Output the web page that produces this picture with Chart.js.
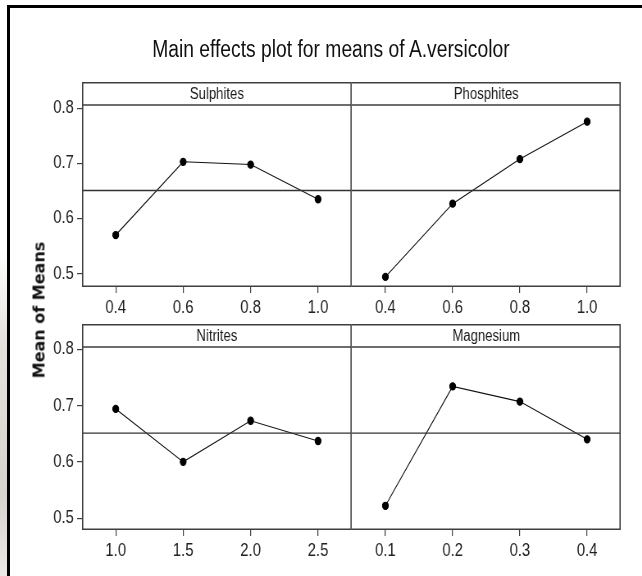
<!DOCTYPE html>
<html>
<head>
<meta charset="utf-8">
<script src="https://cdn.jsdelivr.net/npm/chart.js@4/dist/chart.umd.min.js"></script>
<style>
  html, body { margin: 0; padding: 0; background: #fff; }
  #page { position: relative; width: 642px; height: 576px; overflow: hidden; background: #fff; }
  #edge { position: absolute; left: 0; top: 250px; width: 7px; height: 326px;
          background: linear-gradient(#fff, #e4e0dc 30%, #d6d2ce 75%, #ebe8e5); }
  #frame { position: absolute; left: 7px; top: 5px; width: 640px; height: 580px;
           border-left: 3px solid #000; border-top: 3px solid #000; }
  /* the original plot is squeezed sideways, so the whole drawing is too */
  #squeeze { position: absolute; left: 0; top: 0; width: 783px; height: 576px;
             transform: scaleX(0.82); transform-origin: 0 0; }
  #title { position: absolute; left: 0; width: 807px; top: 36px; text-align: center;
           font-family: 'Liberation Sans', Arial, sans-serif; font-size: 23.5px; color: #111;
           white-space: nowrap; }
  #ylab { position: absolute; left: 39px; top: 310px; transform: translate(-50%, -50%) rotate(-90deg);
          font-family: 'DejaVu Sans', sans-serif; font-weight: bold; font-size: 16px; color: #111;
          white-space: nowrap; }
  canvas { position: absolute; }
</style>
</head>
<body>
<div id="page">
  <div id="edge"></div>
  <div id="frame"></div>
  <div id="squeeze">
    <div id="title">Main effects plot for means of A.versicolor</div>
    <canvas id="c1" width="390" height="236" style="left:39px;top:81px"></canvas>
    <canvas id="c2" width="330" height="236" style="left:429px;top:81px"></canvas>
    <canvas id="c3" width="390" height="237" style="left:39px;top:323px"></canvas>
    <canvas id="c4" width="330" height="237" style="left:429px;top:323px"></canvas>
  </div>
  <div id="ylab">Mean of Means</div>
</div>
<script>
const sulphLevels = ["0.4", "0.6", "0.8", "1.0"];
const sulphMeans = [0.570, 0.703, 0.698, 0.635];
const phosLevels = ["0.4", "0.6", "0.8", "1.0"];
const phosMeans = [0.494, 0.627, 0.708, 0.776];
const nitLevels = ["1.0", "1.5", "2.0", "2.5"];
const nitMeans = [0.694, 0.600, 0.673, 0.637];
const magLevels = ["0.1", "0.2", "0.3", "0.4"];
const magMeans = [0.522, 0.734, 0.707, 0.640];
const grandMean = 0.651;
const yTicks = [0.5, 0.6, 0.7, 0.8];

const FONT = "'Liberation Sans', Arial, sans-serif";
const FRAME = "#3f3f3f";
const STRIP_H = 23;

// box round the panel plus the header strip with the factor name
const panelFrame = {
  id: "panelFrame",
  afterDraw(chart, args, opts) {
    const { ctx, chartArea: a } = chart;
    ctx.save();
    ctx.strokeStyle = FRAME;
    ctx.lineWidth = 1.6;
    ctx.beginPath();
    if (!opts.skipLeft) {
      ctx.moveTo(a.left + 0.8, a.bottom - 0.8);
      ctx.lineTo(a.left + 0.8, a.top + 0.8);
    } else {
      ctx.moveTo(a.left, a.top + 0.8);
    }
    ctx.lineTo(a.right - 0.8, a.top + 0.8);
    ctx.lineTo(a.right - 0.8, a.bottom - 0.8);
    ctx.lineTo(a.left, a.bottom - 0.8);
    ctx.moveTo(a.left, a.top + STRIP_H);
    ctx.lineTo(a.right, a.top + STRIP_H);
    ctx.stroke();
    ctx.fillStyle = "#1a1a1a";
    ctx.font = "16px " + FONT;
    ctx.textAlign = "center";
    ctx.textBaseline = "middle";
    ctx.fillText(opts.label, (a.left + a.right) / 2, a.top + STRIP_H / 2 + 1);
    ctx.restore();
  }
};

function zeroPad(s) {
  s.paddingLeft = 0;
  s.paddingRight = 0;
  s.paddingTop = 0;
  s.paddingBottom = 0;
}

function makePanel(id, name, levels, means, showY, yMin, yMax) {
  const pts = means.map((v, i) => ({ x: i, y: v }));
  const ref = [{ x: -0.5, y: grandMean }, { x: levels.length - 0.5, y: grandMean }];
  return new Chart(document.getElementById(id), {
    type: "line",
    data: {
      datasets: [
        {
          data: ref,
          borderColor: "#333",
          borderWidth: 1.4,
          pointRadius: 0
        },
        {
          data: pts,
          borderColor: "#111",
          borderWidth: 1.1,
          pointRadius: 3.6,
          pointBackgroundColor: "#000",
          pointBorderColor: "#000",
          tension: 0
        }
      ]
    },
    options: {
      responsive: false,
      animation: false,
      devicePixelRatio: 1,
      layout: { autoPadding: false, padding: { top: 1, right: showY ? 0 : 2, left: 0, bottom: 0 } },
      plugins: {
        legend: { display: false },
        tooltip: { enabled: false },
        panelFrame: { label: name, skipLeft: !showY }
      },
      scales: {
        x: {
          type: "linear",
          min: -0.5,
          max: levels.length - 0.5,
          afterBuildTicks: (s) => { s.ticks = levels.map((_, i) => ({ value: i })); },
          afterFit: (s) => { s.height = 30; zeroPad(s); },
          grid: { drawOnChartArea: false, drawTicks: true, tickLength: 6, color: FRAME, lineWidth: 1.2 },
          border: { display: false },
          ticks: {
            autoSkip: false,
            maxRotation: 0,
            padding: 4,
            color: "#222",
            font: { family: FONT, size: 18 },
            callback: (v) => levels[v]
          }
        },
        y: {
          display: showY,
          min: yMin,
          max: yMax,
          afterBuildTicks: (s) => { s.ticks = yTicks.map((v) => ({ value: v })); },
          afterFit: (s) => { s.width = showY ? 61 : 0; zeroPad(s); },
          grid: { drawOnChartArea: false, drawTicks: true, tickLength: 6, color: FRAME, lineWidth: 1.2 },
          border: { display: false },
          ticks: {
            padding: 4,
            color: "#222",
            font: { family: FONT, size: 18 },
            callback: (v) => v.toFixed(1)
          }
        }
      }
    },
    plugins: [panelFrame]
  });
}

makePanel("c1", "Sulphites", sulphLevels, sulphMeans, true, 0.4756, 0.848);
makePanel("c2", "Phosphites", phosLevels, phosMeans, false, 0.4756, 0.848);
makePanel("c3", "Nitrites", nitLevels, nitMeans, true, 0.479, 0.8448);
makePanel("c4", "Magnesium", magLevels, magMeans, false, 0.479, 0.8448);
</script>
</body>
</html>
